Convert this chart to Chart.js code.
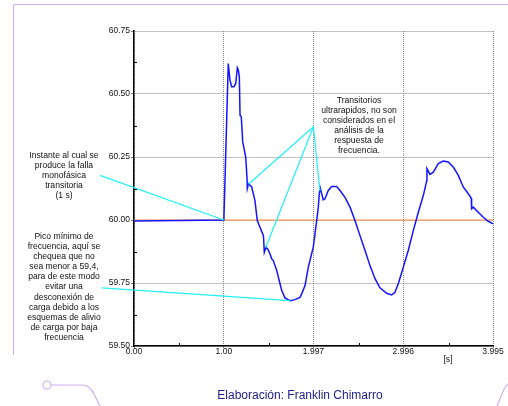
<!DOCTYPE html>
<html>
<head>
<meta charset="utf-8">
<script src="https://cdn.jsdelivr.net/npm/chart.js@4/dist/chart.umd.min.js"></script>
<style>
  html, body { margin: 0; padding: 0; background: #fff; }
  #wrap { position: relative; width: 508px; height: 406px; overflow: hidden; }
  #deco { position: absolute; left: 0; top: 0; }
  #c { position: absolute; left: 0; top: 0; }
  .note {
    position: absolute; text-align: center; color: #111;
    font-family: "Liberation Sans", Arial, sans-serif; font-size: 8.6px; line-height: 10.1px;
    white-space: nowrap;
  }
  #footer {
    position: absolute; left: 150px; width: 300px; top: 388px; text-align: center;
    font-family: "Liberation Sans", Arial, sans-serif; font-size: 12px; line-height: 14px; color: #1c1c8c;
  }
</style>
</head>
<body>
<div id="wrap">
  <svg id="deco" width="508" height="406" viewBox="0 0 508 406">
    <g fill="none" stroke="#cbb0f2" stroke-width="1.2">
      <path d="M13.5 4.5 H508 M13.5 4.5 V355"/>
      <circle cx="47" cy="385" r="4" fill="#fff"/>
      <path d="M51 385 H82 Q90 385 94 394 L100 406"/>
      <path d="M497 406 L502 394 Q505 386 508 384"/>
    </g>
  </svg>
  <canvas id="c" width="508" height="406"></canvas>
  <div class="note" style="left:14px;width:100px;top:150px;">Instante al cual se<br>produce la falla<br>monofásica<br>transitoria<br>(1 s)</div>
  <div class="note" style="left:14px;width:100px;top:231px;">Pico mínimo de<br>frecuencia, aquí se<br>chequea que no<br>sea menor a 59,4,<br>para de este modo<br>evitar una<br>desconexión de<br>carga debido a los<br>esquemas de alivio<br>de carga por baja<br>frecuencia</div>
  <div class="note" style="left:309px;width:100px;top:95px;">Transitorios<br>ultrarapidos, no son<br>considerados en el<br>análisis de la<br>respuesta de<br>frecuencia.</div>
  <div class="note" style="left:438px;width:20px;top:354px;">[s]</div>
  <div id="footer">Elaboración: Franklin Chimarro</div>
</div>
<script>
// Frequency response after a single-phase transient fault (time in s, frequency in Hz)
const timeS = [
  0.000, 0.500, 1.000, 1.049, 1.068, 1.087, 1.113, 1.132, 1.150, 1.161, 1.172, 1.180, 1.194, 1.210,
  1.243, 1.257, 1.261, 1.274, 1.291, 1.310, 1.346, 1.372, 1.402, 1.432, 1.441, 1.450, 1.469, 1.491,
  1.513, 1.532, 1.550, 1.588, 1.625, 1.644, 1.680, 1.736, 1.791, 1.847, 1.866, 1.903, 1.940, 1.995,
  2.033, 2.051, 2.062, 2.070, 2.106, 2.125, 2.162, 2.200, 2.256, 2.292, 2.348, 2.404, 2.459, 2.515,
  2.571, 2.626, 2.682, 2.737, 2.812, 2.868, 2.904, 2.941, 2.997, 3.052, 3.108, 3.164, 3.220, 3.258,
  3.260, 3.294, 3.331, 3.386, 3.442, 3.497, 3.553, 3.609, 3.664, 3.720, 3.753, 3.757, 3.775, 3.831,
  3.887, 3.942, 3.995
];
const freqHz = [
  59.996, 59.998, 60.000, 60.621, 60.555, 60.529, 60.529, 60.542, 60.604, 60.595, 60.568, 60.416, 60.409, 60.310,
  60.250, 60.171, 60.125, 60.144, 60.138, 60.131, 60.077, 59.998, 59.971, 59.945, 59.935, 59.872, 59.892, 59.883,
  59.866, 59.846, 59.839, 59.800, 59.747, 59.720, 59.691, 59.680, 59.684, 59.693, 59.707, 59.740, 59.813, 59.892,
  59.998, 60.051, 60.104, 60.130, 60.080, 60.084, 60.117, 60.133, 60.133, 60.117, 60.090, 60.051, 59.998, 59.938,
  59.879, 59.819, 59.767, 59.731, 59.709, 59.703, 59.713, 59.747, 59.813, 59.879, 59.958, 60.031, 60.098, 60.157,
  60.204, 60.181, 60.190, 60.224, 60.234, 60.230, 60.210, 60.177, 60.131, 60.104, 60.086, 60.045, 60.051, 60.031,
  60.011, 59.995, 59.985
];

// Nominal frequency reference
const nominalHz = 60.00;
const timeSpan = [0, 3.995];

// Axis ticks
const xTickValues = [0, 1.00, 1.997, 2.996, 3.995];
const xTickLabels = ['0.00', '1.00', '1.997', '2.996', '3.995'];
const xMinorTicks = [0.5, 1.5, 2.5, 3.5];
const yTickValues = [59.50, 59.75, 60.00, 60.25, 60.50, 60.75];
const yMinorTicks = [59.625, 59.875, 60.125, 60.375, 60.625];

// Callout leader lines: [from, to] in (time, frequency)
const calloutFault = [[-0.378, 60.177], [1.000, 60.000]];
const calloutMinimum = [[-0.359, 59.731], [1.736, 59.680]];
const calloutApex = [1.997, 60.370];
const calloutTransients = [[1.274, 60.142], [1.465, 59.890], [2.068, 60.115]];

const toPts = (xs, ys) => xs.map((x, i) => ({ x: x, y: ys[i] }));
const seg = (a, b) => [{ x: a[0], y: a[1] }, { x: b[0], y: b[1] }];

const cyan = '#22f0f4';
const calloutSets = [
  seg(calloutFault[0], calloutFault[1]),
  seg(calloutMinimum[0], calloutMinimum[1]),
  ...calloutTransients.map(p => seg(calloutApex, p))
].map(d => ({
  data: d, borderColor: cyan, borderWidth: 1.2, pointRadius: 0, showLine: true,
  clip: false, order: 0, tension: 0
}));

const minorTicks = {
  id: 'minorTicks',
  afterDraw(chart) {
    const { ctx, chartArea, scales } = chart;
    ctx.save();
    ctx.strokeStyle = '#000';
    ctx.lineWidth = 1;
    ctx.beginPath();
    yMinorTicks.forEach(v => {
      const y = Math.round(scales.y.getPixelForValue(v)) + 0.5;
      ctx.moveTo(chartArea.left, y); ctx.lineTo(chartArea.left + 3, y);
    });
    xMinorTicks.forEach(v => {
      const x = Math.round(scales.x.getPixelForValue(v)) + 0.5;
      ctx.moveTo(x, chartArea.bottom); ctx.lineTo(x, chartArea.bottom - 3);
    });
    ctx.stroke();
    ctx.restore();
  }
};

const tickFont = { family: '"Liberation Sans", Arial, sans-serif', size: 8.5 };

new Chart(document.getElementById('c'), {
  type: 'scatter',
  data: {
    datasets: [
      {
        data: toPts(timeS, freqHz), borderColor: '#1414ff', borderWidth: 1.5,
        pointRadius: 0, showLine: true, tension: 0, order: 1
      },
      {
        data: seg([timeSpan[0], nominalHz], [timeSpan[1], nominalHz]), borderColor: '#ff8a3c',
        borderWidth: 1.2, pointRadius: 0, showLine: true, order: 2
      },
      ...calloutSets
    ]
  },
  options: {
    responsive: false,
    animation: false,
    devicePixelRatio: 1,
    layout: { padding: { left: 0, top: 31, right: 15, bottom: 0 } },
    plugins: { legend: { display: false }, tooltip: { enabled: false } },
    scales: {
      x: {
        type: 'linear', min: timeSpan[0], max: timeSpan[1],
        afterBuildTicks: s => { s.ticks = xTickValues.map(v => ({ value: v })); },
        afterFit: s => { s.height = 60; },
        ticks: {
          font: tickFont, color: '#111', padding: -1, maxRotation: 0, autoSkip: false,
          callback: (v, i) => xTickLabels[i]
        },
        grid: { color: '#858585', tickColor: '#858585', tickLength: 2, lineWidth: 1 },
        border: { color: '#000', width: 1.5, dash: [1, 1] }
      },
      y: {
        type: 'linear', min: 59.5, max: 60.75,
        afterBuildTicks: s => { s.ticks = yTickValues.map(v => ({ value: v })); },
        afterFit: s => { s.width = 134; },
        ticks: {
          font: tickFont, color: '#111', padding: 1, autoSkip: false,
          callback: v => Number(v).toFixed(2)
        },
        grid: { color: '#858585', tickColor: '#858585', tickLength: 3, lineWidth: 1 },
        border: { color: '#000', width: 1.5, dash: [1, 1] }
      }
    }
  },
  plugins: [minorTicks]
});
</script>
</body>
</html>
